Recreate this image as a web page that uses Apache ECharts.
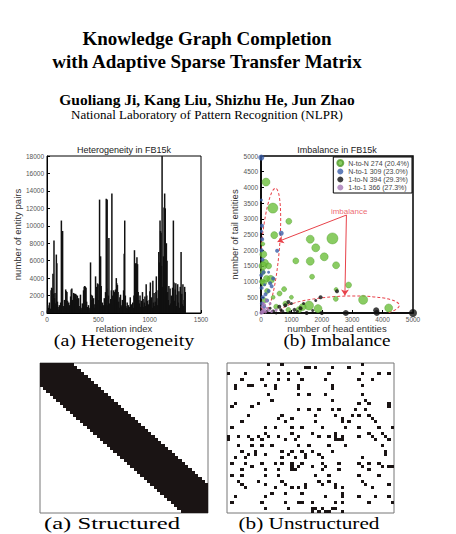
<!DOCTYPE html>
<html>
<head>
<meta charset="utf-8">
<title>Knowledge Graph Completion with Adaptive Sparse Transfer Matrix</title>
<script src="https://cdn.jsdelivr.net/npm/echarts@6/dist/echarts.min.js"></script>
<style>
html, body { margin: 0; padding: 0; background: #fff; }
#main { width: 456px; height: 534px; }
</style>
</head>
<body>
<div id="main"></div>
<script>
// (a) heterogeneity: number of entity pairs per relation index
const relIndex = [0,8,16,24,32,40,45,50,55,58,
  63,68,73,78,84,91,96,102,108,114,
  120,126,133,140,146,152,158,164,170,176,
  182,188,194,200,206,212,218,224,230,236,
  242,248,254,260,266,272,278,284,290,296,
  302,308,314,320,326,332,338,344,350,356,
  362,368,374,380,386,392,398,404,410,418,
  424,430,436,442,448,454,460,466,473,480,
  486,492,498,505,512,517,522,528,534,540,
  546,552,558,564,570,577,582,586,592,598,
  603,609,615,621,627,632,638,644,650,656,
  662,668,675,680,686,692,698,704,710,716,
  722,728,734,740,746,752,757,763,769,775,
  781,787,793,799,805,811,817,823,829,835,
  841,847,852,858,864,870,876,882,888,894,
  900,906,912,918,924,930,936,942,948,954,
  960,966,972,978,984,990,996,1002,1007,1013,
  1019,1025,1031,1037,1043,1049,1055,1061,1065,1071,
  1077,1083,1089,1095,1101,1106,1111,1116,1121,1126,
  1134,1140,1146,1152,1157,1163,1169,1175,1181,1187,
  1193,1199,1205,1211,1217,1223,1231,1237,1243,1249,
  1255,1261,1267,1273,1279,1285,1291,1298,1306,1312,
  1318,1324,1330,1336,1341,1346];
const pairCount = [300,900,600,1200,500,2600,2900,2800,1500,4500,
  2200,8300,1700,2300,1100,6700,5700,1300,700,400,
  900,500,1200,10600,9000,9400,800,600,1500,700,
  2700,2500,2400,1400,600,1200,900,700,1900,2700,
  2800,1500,1300,2300,2200,1000,2200,2100,1600,2000,
  900,1700,500,800,2100,600,400,1100,700,2600,
  3000,3100,3000,2900,1300,700,500,900,400,600,
  5800,2100,1500,2000,800,1700,600,1000,4200,3000,
  2400,3400,3300,1500,13000,5300,6500,3100,800,1200,
  600,900,1700,700,2400,13100,2800,13000,900,2000,
  8600,1100,400,1600,2600,13700,2000,900,2600,2400,
  1800,2700,4000,3400,3200,2400,1300,600,1800,2100,
  900,700,1500,1000,2600,6800,10600,2000,800,600,
  1200,500,900,400,700,1800,600,1000,400,1200,
  600,2000,7200,5600,5700,5700,6400,5600,2400,1500,
  1100,2000,700,1400,900,2400,1600,700,1200,1900,
  800,3300,2000,1400,600,1000,1500,2500,3500,1000,
  1800,600,3700,1200,2300,800,1300,2400,4200,1700,
  900,2600,7000,5800,10600,9400,9200,5400,18000,3000,
  6500,12100,13700,12000,3600,8000,6000,2400,1500,3100,
  900,2800,1100,2000,700,2900,10600,3500,1400,2700,
  3400,800,2100,3300,1200,2500,600,3000,7000,2200,
  1000,3300,800,1500,3000,2400];

// (b) imbalance: [head entities, tail entities, marker size]
const nToN = [[164,4170,8],[390,3340,10],[436,2480,7],[915,2920,6],[1620,2350,8],[2350,2375,11],
  [1800,2076,8],[2080,1790,8],[1620,1650,8],[1145,1660,6],[2470,1520,7],[1680,1155,5],
  [760,760,5],[610,620,5],[2880,890,6],[2470,750,4],[2460,450,5],[3360,420,9],[4200,160,8],
  [1580,235,9],[1370,190,7],[1875,140,8],[1250,107,6],[76,1870,7],[130,1600,7],[65,1500,8],
  [250,1500,6],[316,1070,8],[87,960,6],[180,1100,6],[60,1300,5],[30,1000,5],[200,700,5],
  [400,500,4],[800,300,5],[120,400,5],[900,100,5],[60,2200,4],[500,200,5],[1000,500,4]];
const nToOne = [[10,4950,6],[665,2540,5],[33,2780,4],[40,2350,4],[20,2000,4],[50,1700,4],
  [80,1300,4],[300,950,4],[350,850,4],[250,700,4],[150,600,4],[60,500,4],[30,300,4],
  [100,200,4],[200,400,4],[400,1100,4],[20,800,4],[10,1200,4],[120,900,3],[250,1300,3],
  [530,1980,4],[10,3600,3],[15,2600,3]];
const oneToN = [[5000,0,8],[3790,86,6],[3810,0,6],[2790,0,6],[2500,695,4],[1960,500,4],
  [600,200,4],[800,250,4],[900,350,4],[1100,100,4],[1300,150,4],[1500,0,4],[700,50,4],
  [650,100,3],[1000,300,3],[1200,50,3],[1700,80,3],[400,50,4],[300,150,3],[500,0,3],
  [2000,0,4],[1800,400,3],[1400,300,3],[200,50,3],[950,20,3]];
const oneToOne = [[50,50,4],[100,100,4],[150,30,3],[200,150,3],[30,200,3],[80,300,3],
  [250,80,3],[120,250,3],[300,300,3],[60,20,3],[500,100,3],[350,50,3],[10,10,4],[180,400,3]];
const legendNames = ['N-to-N 274 (20.4%)', 'N-to-1 309 (23.0%)', '1-to-N 394 (29.3%)', '1-to-1 366 (27.3%)'];
// dashed ellipses: [cx, cy, rx, ry, rotation deg]
const ellipses = [[300,2000,300,1980,-5],[2600,150,1950,380,3]];
const arrowFrom = [2810,3120];
const arrowTo = [[545,2270],[2760,556]];
const imbalanceLabel = [2900,3230];

// structured matrix: black band rows per column (top, bottom)
const bandTop = [0,0,0,0,0,0,0,0,0,0,1,2,3,4,5,6,7,8,9,10,11,12,13,14,15,16,17,18,19,20,
  21,22,23,24,25,26,27,28,29,30,31,32,33,34,35,36,37,38,39,40];
const bandBottom = [8,9,10,11,12,13,14,15,16,17,18,19,20,21,22,23,24,25,26,27,28,29,30,31,32,33,
  34,35,36,37,38,39,40,41,42,43,44,45,46,47,48,49,50,50,50,50,50,50,50,50];

// unstructured matrix: filled cells [col, row]
const unstructuredCells = [
  [12,0],[16,0],[40,0],[23,1],[24,1],[26,1],[31,1],[36,1],
  [0,3],[5,3],[12,3],[15,3],[18,3],[21,3],[30,3],[40,3],[45,3],[48,3],
  [4,5],[10,5],[15,5],[18,5],[22,5],[29,5],[39,5],[43,5],
  [2,7],[6,7],[7,7],[11,7],[14,7],[21,7],[31,7],[40,7],
  [2,8],[14,8],[21,8],[31,8],
  [12,10],[21,10],[24,10],[29,10],[40,10],
  [13,12],[31,12],[41,12],
  [2,13],[9,13],[39,13],[42,13],[48,13],
  [1,14],[7,14],[48,14],
  [21,15],[24,15],[27,15],[31,15],[33,15],[38,15],[41,15],
  [6,17],[16,17],[26,17],[32,17],[37,17],[39,17],[42,17],
  [15,18],[19,18],[34,18],[43,18],
  [4,19],[17,19],[26,19],[34,19],[36,19],[44,19],
  [1,21],[11,21],[14,21],[19,21],[22,21],[28,21],[35,21],[39,21],[45,21],[49,21],
  [11,23],[19,23],[25,23],[32,23],[42,23],[46,23],
  [0,24],[3,24],[6,24],[9,24],[12,24],[15,24],[21,24],[27,24],[30,24],[32,24],[34,24],[39,24],[43,24],[47,24],
  [0,25],[7,25],[10,25],[17,25],[20,25],[32,25],[33,25],[34,25],[44,25],[48,25],
  [3,27],[7,27],[10,27],[13,27],[21,27],[24,27],[30,27],[35,27],[46,27],
  [4,29],[8,29],[16,29],[19,29],[22,29],[25,29],[31,29],[47,29],
  [6,30],[8,30],[11,30],[18,30],[23,30],[27,30],[47,30],
  [2,31],[5,31],[16,31],[20,31],[23,31],[28,31],[40,31],
  [1,33],[5,33],[10,33],[14,33],[16,33],[19,33],[22,33],[28,33],[33,33],[39,33],[42,33],[45,33],
  [7,34],[19,34],[21,34],[25,34],[29,34],[40,34],[46,34],[48,34],[49,34],
  [4,35],[11,35],[15,35],[19,35],[20,35],[28,35],[33,35],[42,35],
  [1,37],[4,37],[11,37],[15,37],[26,37],[30,37],[39,37],[45,37],
  [3,39],[9,39],[16,39],[27,39],[30,39],[40,39],
  [4,40],[11,40],[17,40],[23,40],[28,40],[32,40],[41,40],[48,40],
  [5,41],[14,41],[19,41],[21,41],[23,41],[32,41],[34,41],[43,41],
  [13,43],[17,43],[22,43],[34,43],
  [2,44],[11,44],[29,44],[34,44],[39,44],[44,44],[48,44],
  [1,46],[10,46],[17,46],[21,46],[22,46],[25,46],[32,46],[34,46],[42,46],[49,46],
  [11,48],[18,48],[25,48],[26,48],[28,48],[31,48],[32,48],
  [25,49],[27,49],[29,49],[30,49],[34,49]
];

const chart = echarts.init(document.getElementById('main'), null, { renderer: 'svg' });

const sans = '"Liberation Sans", Arial, sans-serif';
const serif = '"Liberation Serif", "Times New Roman", serif';
const tickLabel = { fontSize: 6.5, color: '#555', fontFamily: sans, margin: 3, formatter: v => String(v) };
const axisBlack = { lineStyle: { color: '#000', width: 1 } };
const tickIn = { inside: true, length: 3, lineStyle: { color: '#000' } };
const nameStyle = { fontSize: 9.5, color: '#333', fontFamily: sans };

// band columns: snapped to whole pixels so neighbouring columns leave no seams
function bandRect(params, api) {
  const p0 = api.coord([api.value(0), api.value(1)]);
  const p1 = api.coord([api.value(0) + 1, api.value(2)]);
  const x0 = Math.floor(p0[0]), x1 = Math.ceil(p1[0]);
  const y0 = Math.round(Math.min(p0[1], p1[1])), y1 = Math.round(Math.max(p0[1], p1[1]));
  return { type: 'rect', shape: { x: x0, y: y0, width: x1 - x0, height: y1 - y0 }, style: { fill: '#1a1414' } };
}

function cellRect(params, api) {
  const p0 = api.coord([api.value(0), api.value(1)]);
  const p1 = api.coord([api.value(0) + 1, api.value(1) + 1]);
  const x0 = Math.round(p0[0]), x1 = Math.round(p1[0]);
  const y0 = Math.round(Math.min(p0[1], p1[1])), y1 = Math.round(Math.max(p0[1], p1[1]));
  return { type: 'rect', shape: { x: x0, y: y0, width: x1 - x0, height: y1 - y0 }, style: { fill: '#1a1414' } };
}

function ellipseItem(params, api) {
  const c = api.coord([api.value(0), api.value(1)]);
  const s = api.size([api.value(2), api.value(3)]);
  return {
    type: 'ellipse',
    x: c[0], y: c[1],
    rotation: api.value(4) * Math.PI / 180,
    shape: { cx: 0, cy: 0, rx: s[0], ry: s[1] },
    style: { fill: 'none', stroke: '#e8424a', lineWidth: 1, lineDash: [3, 2] }
  };
}

function textAt(x, y, text, font, color, scaleX) {
  return {
    type: 'text', x: x, y: y, scaleX: scaleX || 1,
    style: { text: text, font: font, fill: color || '#000', textAlign: 'center', textVerticalAlign: 'middle' }
  };
}

chart.setOption({
  animation: false,
  backgroundColor: '#fff',
  graphic: [
    textAt(207, 38, 'Knowledge Graph Completion', 'bold 19px ' + serif),
    textAt(207, 61, 'with Adaptive Sparse Transfer Matrix', 'bold 19px ' + serif),
    textAt(207, 99, 'Guoliang Ji, Kang Liu, Shizhu He, Jun Zhao', 'bold 15.5px ' + serif),
    textAt(207, 115, 'National Laboratory of Pattern Recognition (NLPR)', '12.5px ' + serif, '#000', 1.04),
    textAt(124, 150, 'Heterogeneity in FB15k', '9px ' + sans, '#222'),
    textAt(337, 150, 'Imbalance in FB15k', '9px ' + sans, '#222'),
    textAt(124, 341, '(a) Heterogeneity', '16px ' + serif, '#000', 1.25),
    textAt(337, 341, '(b) Imbalance', '16px ' + serif, '#000', 1.2),
    textAt(112, 523, '(a) Structured', '17px ' + serif, '#000', 1.45),
    textAt(309, 523, '(b) Unstructured', '17px ' + serif, '#000', 1.25)
  ],
  legend: {
    data: legendNames,
    orient: 'vertical',
    right: 44, top: 157,
    itemGap: 1, itemWidth: 6, itemHeight: 6,
    icon: 'circle',
    padding: [2, 3, 2, 3],
    backgroundColor: '#fff',
    borderColor: '#000', borderWidth: 1,
    textStyle: { fontSize: 7, color: '#444', fontFamily: sans }
  },
  grid: [
    { left: 47, top: 156, width: 154, height: 157, show: true, borderColor: '#000', borderWidth: 1 },
    { left: 261, top: 156, width: 152, height: 157, show: true, borderColor: '#000', borderWidth: 1.5 },
    { left: 40, top: 363, width: 168, height: 150, show: true, borderColor: '#777', borderWidth: 1 },
    { left: 227, top: 363, width: 167, height: 150, show: true, borderColor: '#777', borderWidth: 1 }
  ],
  xAxis: [
    { gridIndex: 0, type: 'value', min: 0, max: 1500, interval: 500,
      axisLine: axisBlack, axisTick: tickIn, axisLabel: tickLabel, splitLine: { show: false },
      name: 'relation index', nameLocation: 'middle', nameGap: 10, nameTextStyle: nameStyle },
    { gridIndex: 1, type: 'value', min: 0, max: 5000, interval: 1000,
      axisLine: { lineStyle: { color: '#000', width: 1.5 } }, axisTick: tickIn, axisLabel: tickLabel, splitLine: { show: false },
      name: 'number of head entities', nameLocation: 'middle', nameGap: 10, nameTextStyle: nameStyle },
    { gridIndex: 2, type: 'value', min: 0, max: 50, show: false },
    { gridIndex: 3, type: 'value', min: 0, max: 50, show: false }
  ],
  yAxis: [
    { gridIndex: 0, type: 'value', min: 0, max: 18000, interval: 2000,
      axisLine: axisBlack, axisTick: tickIn, axisLabel: tickLabel, splitLine: { show: false },
      name: 'number of entity pairs', nameLocation: 'middle', nameGap: 22, nameTextStyle: nameStyle },
    { gridIndex: 1, type: 'value', min: 0, max: 5000, interval: 500,
      axisLine: { lineStyle: { color: '#000', width: 1.5 } }, axisTick: tickIn, axisLabel: tickLabel, splitLine: { show: false },
      name: 'number of tail entities', nameLocation: 'middle', nameGap: 21, nameTextStyle: nameStyle },
    { gridIndex: 2, type: 'value', min: 0, max: 50, inverse: true, show: false },
    { gridIndex: 3, type: 'value', min: 0, max: 50, inverse: true, show: false }
  ],
  series: [
    { type: 'bar', xAxisIndex: 0, yAxisIndex: 0, barWidth: 1.5,
      itemStyle: { color: '#111' },
      data: relIndex.map((r, i) => [r, pairCount[i]]) },
    { type: 'custom', xAxisIndex: 1, yAxisIndex: 1, clip: true, renderItem: ellipseItem, data: ellipses, z: 1,
      markLine: {
        silent: true, symbol: ['none', 'arrow'], symbolSize: 6,
        lineStyle: { color: '#e8424a', width: 1, type: 'solid' }, label: { show: false },
        data: arrowTo.map(t => [{ coord: arrowFrom }, { coord: t }])
      } },
    { type: 'scatter', name: legendNames[0], xAxisIndex: 1, yAxisIndex: 1,
      symbolSize: v => v[2], data: nToN,
      itemStyle: { color: '#6dbf3c', borderColor: '#4f9a2a', borderWidth: 0.5 } },
    { type: 'scatter', name: legendNames[1], xAxisIndex: 1, yAxisIndex: 1,
      symbolSize: v => v[2], data: nToOne, itemStyle: { color: '#3b5ea8' } },
    { type: 'scatter', name: legendNames[2], xAxisIndex: 1, yAxisIndex: 1,
      symbolSize: v => v[2], data: oneToN, itemStyle: { color: '#111' } },
    { type: 'scatter', name: legendNames[3], xAxisIndex: 1, yAxisIndex: 1,
      symbolSize: v => v[2], data: oneToOne, itemStyle: { color: '#a577b5' } },
    { type: 'scatter', xAxisIndex: 1, yAxisIndex: 1, symbolSize: 0, silent: true,
      data: [imbalanceLabel],
      label: { show: true, formatter: 'imbalance', position: 'inside', color: '#e8424a', fontSize: 8, fontFamily: sans } },
    { type: 'custom', xAxisIndex: 2, yAxisIndex: 2, renderItem: bandRect,
      data: bandTop.map((t, c) => [c, t, bandBottom[c]]) },
    { type: 'custom', xAxisIndex: 3, yAxisIndex: 3, renderItem: cellRect,
      data: unstructuredCells }
  ]
});
</script>
</body>
</html>
